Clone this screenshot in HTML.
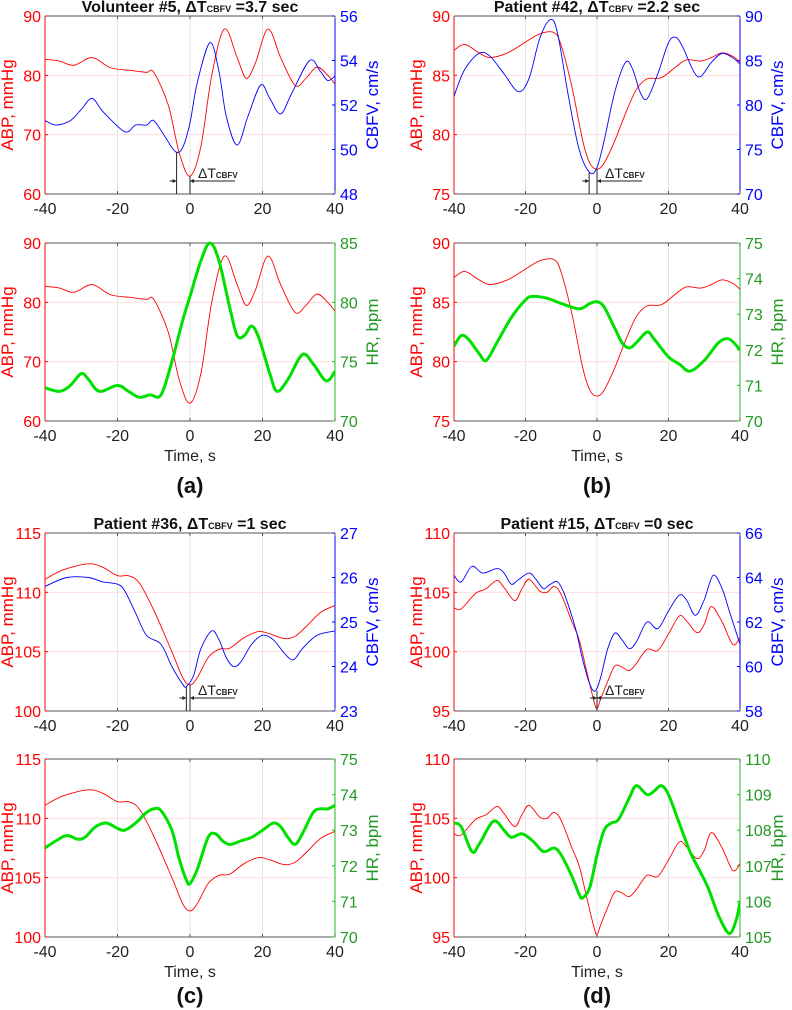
<!DOCTYPE html>
<html><head><meta charset="utf-8"><style>
body{margin:0;background:#fff;}
svg{display:block;font-family:"Liberation Sans",Arial,sans-serif;}
</style></head><body>
<svg id="fig" width="792" height="1010" viewBox="0 0 792 1010" xmlns="http://www.w3.org/2000/svg"></svg>
<script>
// ---- data (time, value) ----
const aT_abp=[-40,-36,-32,-27,-22,-16,-12,-10,-6,-3,0,3,6,9.5,13,15.5,18,21.5,25,29,32,35,38,40];
const aV_abp=[82.7,82.4,81.7,83.0,81.3,80.8,80.5,80.5,75,67,63,68,80,87.8,83,79.5,82,87.8,83,78.3,79.5,81.4,80,78.5];
const aT_cbfv=[-40,-37,-33,-30,-27,-24,-18,-15,-12,-10,-7,-4,-2,0,2,5.5,8,10,13,16,19.5,22,25,28,33,36,38,40];
const aV_cbfv=[51.3,51.1,51.3,51.8,52.3,51.7,50.8,51.1,51.1,51.3,50.6,49.9,50.1,51.2,53,54.8,53.5,51.5,50.2,51.5,52.9,52.3,51.6,52.5,54.0,53.5,53.1,53.3];
const aT_hr=[-40,-36,-33,-30,-28,-25,-20,-17,-14,-11,-8,-5,-2,0,3,5.5,8,11,13,15,17,19,22,24,27,31,34,37,38.5,40];
const aV_hr=[72.8,72.5,73,74,73.5,72.5,73,72.5,72,72.2,72.2,75,78.5,80.5,83.5,85,83.5,79.5,77.2,77.2,78,77,74,72.5,73.5,75.6,74.8,73.5,73.5,74.2];

const bT_abp=[-40,-37,-33,-30,-25,-20,-16,-12,-10,-7,-4,-2,0,2,5,8,11,14,18,22,25,29,32,35,38,40];
const bV_abp=[87.1,87.6,86.9,86.5,86.9,87.8,88.5,88.6,87.5,84,79.5,77.6,77.1,77.6,79.5,81.8,83.8,84.7,84.8,85.7,86.3,86.2,86.5,86.9,86.6,86.1];
const bT_cbfv=[-40,-37,-33,-30,-26,-22,-19,-16,-13,-11,-8,-5,-2,0,2,5,8,10,12,14,17,20,22,24,27,29,32,35,38,40];
const bV_cbfv=[81,84,85.8,85.5,83.5,81.5,83,87.5,89.6,88,81,75,72.4,73,76,81.5,84.8,84,81.5,80.7,83.5,87,87.6,86.5,83.8,83.2,84.8,85.8,85.3,84.6];
const bT_hr=[-40,-38,-36,-33,-31,-28,-24,-20,-18,-14,-10,-5,-2,0,2,5,7,9,11,14,16,20,23,26,30,34,37,40];
const bV_hr=[72.1,72.4,72.3,71.9,71.7,72.2,72.9,73.4,73.5,73.45,73.3,73.15,73.3,73.35,73.2,72.6,72.2,72.05,72.2,72.5,72.3,71.8,71.6,71.4,71.7,72.2,72.3,72.0];

const cT_abp=[-40,-35,-28,-24,-20,-17,-14,-10,-5,-2,0,2,5,8,11,15,19,22,26,29,32,36,40];
const cV_abp=[111.1,111.9,112.4,112.1,111.4,111.4,110.8,108.5,105,102.8,102.2,102.8,104.5,105.2,105.3,106.2,106.7,106.5,106.1,106.3,107.1,108.3,108.9];
const cT_cbfv=[-40,-34,-28,-24,-20,-18,-15,-12,-8,-5,-2,-1,1,3,6,8,10,12,14,17,20,23,26,28.5,31,35,40];
const cV_cbfv=[25.8,26.0,26.0,25.9,25.85,25.7,25.2,24.7,24.5,24.0,23.6,23.55,23.8,24.4,24.8,24.6,24.2,24.0,24.1,24.5,24.7,24.6,24.3,24.15,24.4,24.7,24.8];
const cT_hr=[-40,-37,-34,-31,-29,-26,-23,-20,-18,-15,-12,-10,-8,-5,-3,-1,0,2,5,7,9,11,14,17,20,23,25,27,29,31,34,36,38,40];
const cV_hr=[72.5,72.7,72.85,72.75,72.8,73.1,73.2,73.05,73.0,73.2,73.5,73.6,73.55,73.0,72.2,71.6,71.5,71.9,72.8,72.9,72.7,72.6,72.7,72.8,73.0,73.2,73.1,72.8,72.6,72.9,73.5,73.6,73.6,73.7];

const dT_abp=[-40,-38,-34,-31,-28,-26,-23,-21,-19,-16,-14,-12,-10,-7,-5,-3,-1,0,1,3,5,7,9,11,14,17,20,23,25,28,30,32,35,38,40];
const dV_abp=[103.7,103.6,104.9,105.3,106.0,105.4,104.3,105.3,106.1,105.1,105.0,105.5,104.8,102.5,101,98.5,96,95.2,96,97.5,98.8,98.7,98.4,99.0,100.2,100.1,101.5,103.0,102.6,101.6,102.3,103.8,102.5,100.6,101.2];
const dT_cbfv=[-40,-38,-35,-32,-28,-26,-24,-22,-19,-17,-15,-13,-11,-9,-6,-4,-2,-0.5,1,3,5,7,9,11,14,17,20,23,25,27.5,30,32.5,35,37,40];
const dV_cbfv=[64.1,63.8,64.5,64.2,64.4,64.2,63.7,63.9,64.2,63.9,63.5,63.7,63.8,63.2,61.7,60.3,59.2,58.9,59.5,60.8,61.5,61.2,60.8,61.1,62.0,61.7,62.5,63.2,63.0,62.3,63.0,64.1,63.5,62.5,61.0];
const dT_hr=[-40,-38,-35,-33,-29,-26,-24,-21,-18,-15,-12,-10,-7,-5,-4,-2,0,2,4,6,9,11,14,16,18,20,23,26,28,31,34,37,39,40];
const dV_hr=[108.2,108.1,107.4,107.6,108.25,108.0,107.8,107.9,107.7,107.4,107.5,107.3,106.7,106.2,106.1,106.4,107.3,108.0,108.2,108.3,108.9,109.25,109.0,109.1,109.25,109.0,108.2,107.4,107.0,106.4,105.6,105.1,105.5,106.0];

const xTicks=[-40,-20,0,20,40];
const RED='#ff0000',BLUE='#0000ff',GREEN='#00e000',GAX='#229922';
const NS='http://www.w3.org/2000/svg';
const svg=document.getElementById('fig');
function mk(tag,attrs,parent){const e=document.createElementNS(NS,tag);for(const k in attrs)e.setAttribute(k,attrs[k]);(parent||svg).appendChild(e);return e;}
function txt(s,x,y,attrs,parent){const e=mk('text',Object.assign({x:x,y:y},attrs),parent);e.textContent=s;return e;}
function smooth(pts){let d='M'+pts[0][0].toFixed(2)+','+pts[0][1].toFixed(2);
 for(let i=0;i<pts.length-1;i++){const p0=pts[Math.max(0,i-1)],p1=pts[i],p2=pts[i+1],p3=pts[Math.min(pts.length-1,i+2)];
 const c1=[p1[0]+(p2[0]-p0[0])/6,p1[1]+(p2[1]-p0[1])/6],c2=[p2[0]-(p3[0]-p1[0])/6,p2[1]-(p3[1]-p1[1])/6];
 d+='C'+c1[0].toFixed(2)+','+c1[1].toFixed(2)+' '+c2[0].toFixed(2)+','+c2[1].toFixed(2)+' '+p2[0].toFixed(2)+','+p2[1].toFixed(2);}return d;}

function panel(o){
 const g=mk('g',{});
 
 
 const X=t=>o.x0+(t+40)/80*(o.x1-o.x0);
 const YL=v=>o.y1-(v-o.lmin)/(o.lmax-o.lmin)*(o.y1-o.y0);
 const YR=v=>o.y1-(v-o.rmin)/(o.rmax-o.rmin)*(o.y1-o.y0);
 [-20,0,20].forEach(t=>{const l=mk('line',{x1:X(t),x2:X(t),y1:o.y0,y2:o.y1,stroke:'#e4e4e4','stroke-width':1},g);});
 o.lt.slice(1,-1).forEach(v=>{const l=mk('line',{x1:o.x0,x2:o.x1,y1:YL(v),y2:YL(v),stroke:'#ffdede','stroke-width':1},g);});
 mk('line',{x1:o.x0,x2:o.x1,y1:o.y0,y2:o.y0,stroke:'#555','stroke-width':1},g);
 mk('line',{x1:o.x0,x2:o.x1,y1:o.y1,y2:o.y1,stroke:'#555','stroke-width':1},g);
 mk('line',{x1:o.x0,x2:o.x0,y1:o.y0,y2:o.y1,stroke:RED,'stroke-width':1},g);
 mk('line',{x1:o.x1,x2:o.x1,y1:o.y0,y2:o.y1,stroke:o.rcol,'stroke-width':1},g);
 xTicks.forEach(t=>{mk('line',{x1:X(t),x2:X(t),y1:o.y1,y2:o.y1-3,stroke:'#555'},g);mk('line',{x1:X(t),x2:X(t),y1:o.y0,y2:o.y0+3,stroke:'#555'},g);
  const e=txt(String(t),X(t),o.y1+20,{'font-size':16,'text-anchor':'middle',fill:'#222'},g);});
 o.lt.forEach(v=>{mk('line',{x1:o.x0,x2:o.x0+3,y1:YL(v),y2:YL(v),stroke:RED},g);
  const e=txt(String(v),o.x0-4,YL(v)+6,{'font-size':16,'text-anchor':'end',fill:RED},g);});
 o.rt.forEach(v=>{mk('line',{x1:o.x1-3,x2:o.x1,y1:YR(v),y2:YR(v),stroke:o.rcol},g);
  const e=txt(String(v),o.x1+5,YR(v)+6,{'font-size':16,'text-anchor':'start',fill:o.rlab},g);});
 const yc=(o.y0+o.y1)/2;
 const la=txt('ABP, mmHg',0,0,{'font-size':17,'text-anchor':'middle',fill:RED,transform:`translate(${o.x0-32},${yc}) rotate(-90)`},g);
 
 const ra=txt(o.rtitle,0,0,{'font-size':17,'text-anchor':'middle',fill:o.rlab,transform:`translate(${o.x1+43},${yc}) rotate(-90)`},g);
 
 const cp=mk('clipPath',{id:'c'+o.name},g);mk('rect',{x:o.x0,y:o.y0-2,width:o.x1-o.x0,height:o.y1-o.y0+4},cp);
 const p1=mk('path',{d:smooth(o.lT.map((t,i)=>[X(t),YL(o.lV[i])])),fill:'none',stroke:RED,'stroke-width':0.9,'clip-path':`url(#c${o.name})`},g);
 
 const p2=mk('path',{d:smooth(o.rT.map((t,i)=>[X(t),YR(o.rV[i])])),fill:'none',stroke:o.lcol,'stroke-width':o.lw,'clip-path':`url(#c${o.name})`},g);
 
 if(o.dt!==undefined){
  const xa=X(-o.dt),xb=X(0),ya=YR(Math.min(...o.rV)),yb=YL(Math.min(...o.lV)),yy=o.y1-13;
  const dg=mk('g',{stroke:'#222','stroke-width':1},g);
  mk('line',{x1:xa,x2:xa,y1:ya,y2:o.y1},dg);mk('line',{x1:xb,x2:xb,y1:yb,y2:o.y1},dg);
  mk('line',{x1:xa-7,x2:xa,y1:yy,y2:yy},dg);mk('line',{x1:xb,x2:xb+45,y1:yy,y2:yy},dg);
  mk('path',{d:`M${xa},${yy}l-4,-2v4z M${xb},${yy}l4,-2v4z`,fill:'#222',stroke:'none'},dg);
  const t=txt('',xb+8,yy-3,{'font-size':14,fill:'#222'},g);
  t.innerHTML='ΔT<tspan font-size="8" font-weight="bold">CBFV</tspan>';
 }
 if(o.title){const t=txt('',(o.x0+o.x1)/2,o.y0-4,{'font-size':16,'font-weight':'bold','text-anchor':'middle',fill:'#111'},g);
  
  t.innerHTML=o.title[0]+'ΔT<tspan font-size="9">CBFV</tspan> ='+o.title[1]+' sec';}
 if(o.xlab){const t=txt('Time, s',(o.x0+o.x1)/2,o.y1+40,{'font-size':16,'text-anchor':'middle',fill:'#222'},g);
  const l=txt(o.xlab,(o.x0+o.x1)/2,o.y1+o.ly,{'font-size':22,'font-weight':'bold','text-anchor':'middle',fill:'#111'},g);}
}
const L={x0:45,x1:335},R={x0:454,x1:740};
const cb={rcol:'#0000ff',rlab:BLUE,rtitle:'CBFV, cm/s',lcol:BLUE,lw:0.9,rname:'cbfv-line'};
const hr={rcol:'#22bb22',rlab:GAX,rtitle:'HR, bpm',lcol:GREEN,lw:3,rname:'hr-line'};
panel(Object.assign({name:'a-top',y0:16,y1:194,lmin:60,lmax:90,lt:[60,70,80,90],rmin:48,rmax:56,rt:[48,50,52,54,56],lT:aT_abp,lV:aV_abp,rT:aT_cbfv,rV:aV_cbfv,dt:3.7,title:['Volunteer #5, ','3.7']},L,cb));
panel(Object.assign({name:'a-bottom',y0:243,y1:421,lmin:60,lmax:90,lt:[60,70,80,90],rmin:70,rmax:85,rt:[70,75,80,85],lT:aT_abp,lV:aV_abp,rT:aT_hr,rV:aV_hr,xlab:'(a)',ly:72},L,hr));
panel(Object.assign({name:'b-top',y0:16,y1:194,lmin:75,lmax:90,lt:[75,80,85,90],rmin:70,rmax:90,rt:[70,75,80,85,90],lT:bT_abp,lV:bV_abp,rT:bT_cbfv,rV:bV_cbfv,dt:2.2,title:['Patient #42, ','2.2']},R,cb));
panel(Object.assign({name:'b-bottom',y0:243,y1:421,lmin:75,lmax:90,lt:[75,80,85,90],rmin:70,rmax:75,rt:[70,71,72,73,74,75],lT:bT_abp,lV:bV_abp,rT:bT_hr,rV:bV_hr,xlab:'(b)',ly:72},R,hr));
panel(Object.assign({name:'c-top',y0:533,y1:711,lmin:100,lmax:115,lt:[100,105,110,115],rmin:23,rmax:27,rt:[23,24,25,26,27],lT:cT_abp,lV:cV_abp,rT:cT_cbfv,rV:cV_cbfv,dt:1,title:['Patient #36, ','1']},L,cb));
panel(Object.assign({name:'c-bottom',y0:759,y1:937,lmin:100,lmax:115,lt:[100,105,110,115],rmin:70,rmax:75,rt:[70,71,72,73,74,75],lT:cT_abp,lV:cV_abp,rT:cT_hr,rV:cV_hr,xlab:'(c)',ly:66},L,hr));
panel(Object.assign({name:'d-top',y0:533,y1:711,lmin:95,lmax:110,lt:[95,100,105,110],rmin:58,rmax:66,rt:[58,60,62,64,66],lT:dT_abp,lV:dV_abp,rT:dT_cbfv,rV:dV_cbfv,dt:0,title:['Patient #15, ','0']},R,cb));
panel(Object.assign({name:'d-bottom',y0:759,y1:937,lmin:95,lmax:110,lt:[95,100,105,110],rmin:105,rmax:110,rt:[105,106,107,108,109,110],lT:dT_abp,lV:dV_abp,rT:dT_hr,rV:dV_hr,xlab:'(d)',ly:66},R,hr));
</script>
</body></html>
